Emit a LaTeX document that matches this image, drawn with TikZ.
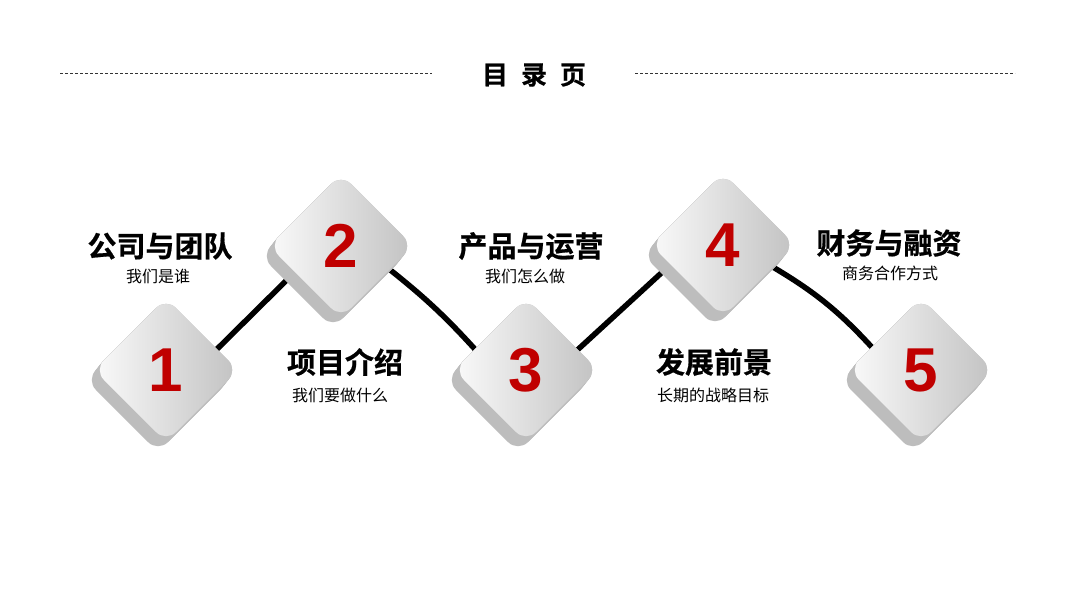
\documentclass[tikz,border=0pt]{standalone}
\usepackage{fontspec}
\newfontfamily\cjk{Noto Sans CJK SC}
\newfontfamily\cjkb[FakeBold=0.6]{Noto Sans CJK SC Bold}
\newfontfamily\numfont{Liberation Sans}
\definecolor{numred}{HTML}{C00000}
\definecolor{facel}{HTML}{FAFAFA}
\definecolor{facer}{HTML}{C2C2C2}
\definecolor{sidec}{HTML}{BDBDBD}
\tikzset{
  dashrule/.style={line width=1pt, dash pattern=on 3pt off 2pt, black!80},
  conn/.style={line width=5.5pt, black},
  titletext/.style={font=\cjkb\fontsize{26}{26}\selectfont, inner sep=0pt},
  headtext/.style={font=\cjkb\fontsize{29}{29}\selectfont, inner sep=0pt},
  subtext/.style={font=\cjk\fontsize{16}{16}\selectfont, inner sep=0pt},
  numtext/.style={font=\numfont\bfseries\fontsize{62}{62}\selectfont, text=numred, inner sep=0pt},
}
\newcommand{\mydiamond}[4]{% x y name number
  \foreach \k in {0,1,...,10}{
    \fill[sidec, rounded corners=14pt]
      ({#1-72-0.8*\k},{#2+1.0*\k}) -- ({#1-0.8*\k},{#2-72+1.0*\k}) -- ({#1+72-0.8*\k},{#2+1.0*\k}) -- ({#1-0.8*\k},{#2+72+1.0*\k}) -- cycle;
  }
  \shade[left color=facel, right color=facer, rounded corners=14pt]
    ({#1-72},{#2}) -- ({#1},{#2-72}) -- ({#1+72},{#2}) -- ({#1},{#2+72}) -- cycle;
  \node[numtext] (#3) at (#1,#2) {#4};
}
\begin{document}
\begin{tikzpicture}[x=1pt,y=-1pt]
\useasboundingbox (0,0) rectangle (1067,600);
\fill[white] (0,0) rectangle (1067,600);
% title
\node[titletext] (title) at (534,75) {目\hspace{13pt}录\hspace{13pt}页};
\coordinate (dl1) at (60,73);
\coordinate (dl2) at (432,73);
\coordinate (dr1) at (635,73);
\coordinate (dr2) at (1015,73);
\draw[dashrule] (dl1) -- (dl2);
\draw[dashrule] (dr1) -- (dr2);
% connector end points (hidden under the diamonds)
\coordinate (a1) at (208,358);
\coordinate (b2) at (306,261);
\coordinate (a2) at (384,265);
\coordinate (b3) at (482,357);
\coordinate (a3) at (573,354);
\coordinate (b4) at (682,254);
\coordinate (a4) at (766,263);
\coordinate (b5) at (878,354);
\draw[conn] (a1) -- (b2);
\draw[conn] (a2) to[bend left=5] (b3);
\draw[conn] (a3) -- (b4);
\draw[conn] (a4) to[bend left=9] (b5);
% diamonds
\mydiamond{166}{370}{n1}{1}
\mydiamond{341}{246}{n2}{2}
\mydiamond{526}{370}{n3}{3}
\mydiamond{723}{245}{n4}{4}
\mydiamond{921}{370}{n5}{5}
% labels
\node[headtext] (h1) at (160,246) {公司与团队};
\node[subtext] (s1) at (158,276) {我们是谁};
\node[headtext] (h2) at (345,362) {项目介绍};
\node[subtext] (s2) at (340,395) {我们要做什么};
\node[headtext] (h3) at (531,246) {产品与运营};
\node[subtext] (s3) at (525,276) {我们怎么做};
\node[headtext] (h4) at (714,362) {发展前景};
\node[subtext] (s4) at (713,395) {长期的战略目标};
\node[headtext] (h5) at (889,243) {财务与融资};
\node[subtext] (s5) at (890,273) {商务合作方式};
\end{tikzpicture}
\end{document}
